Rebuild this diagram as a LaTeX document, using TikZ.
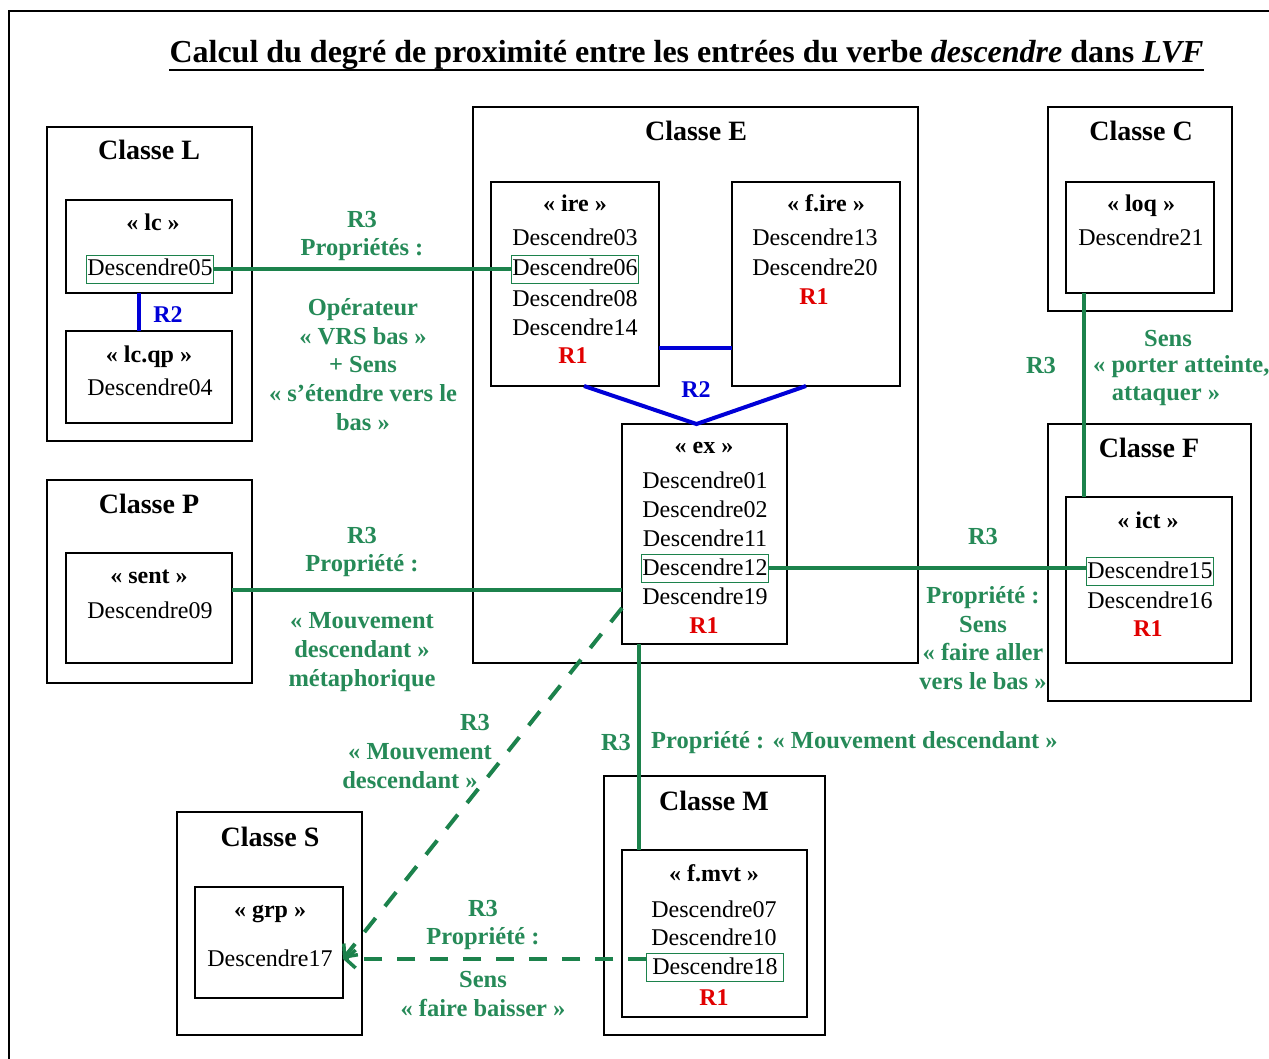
\documentclass[tikz,border=0pt]{standalone}
\usepackage{fontspec}
\setmainfont{Liberation Serif}
\usetikzlibrary{arrows.meta}
\definecolor{gline}{RGB}{28,130,76}
\definecolor{gtext}{RGB}{38,138,88}
\definecolor{bl}{RGB}{0,0,215}
\definecolor{rd}{RGB}{225,0,0}
\newcommand\mkbox[5]{\node[box, minimum width={#4-#2}, minimum height={#5-#3}] (#1) at ({(#2+#4)/2},{(#3+#5)/2}) {};}
\begin{document}
\begin{tikzpicture}[x=1pt,y=-1pt,
  box/.style={draw=black, line width=1.7pt, inner sep=0pt, outer sep=0pt},
  ent/.style={font=\fontsize{24}{26}\selectfont, anchor=base, inner xsep=1pt, inner ysep=3pt, text height=18pt, text depth=4pt, outer sep=0pt},
  hl/.style={ent, draw=gline, line width=0.9pt},
  cls/.style={font=\bfseries\fontsize{28}{30}\selectfont, anchor=base, inner sep=0pt},
  tag/.style={font=\bfseries\fontsize{24}{26}\selectfont, anchor=base, inner sep=0pt},
  rone/.style={tag, text=rd},
  rtwo/.style={tag, text=bl},
  glab/.style={font=\bfseries\fontsize{24.5}{28.75}\selectfont, text=gtext, align=center, inner sep=0pt},
  gl/.style={draw=gline, line width=4pt},
  gdash/.style={draw=gline, line width=4pt, dash pattern=on 18pt off 15pt, -{Straight Barb[length=10pt,width=18pt,line width=3.5pt]}},
  bline/.style={draw=bl, line width=4pt},
]
\useasboundingbox (0,0) rectangle (1269,1059);
\clip (0,0) rectangle (1269,1059);
\draw[line width=1.8pt] (9,11) rectangle (1300,1100);

% title
\node[font=\bfseries\fontsize{32}{34}\selectfont, anchor=base, inner sep=0pt] (title) at (686.5,63) {Calcul du degré de proximité entre les entrées du verbe \textit{descendre} dans \textit{LVF}};
\draw[line width=2.2pt] ([yshift=-7pt]title.base west) -- ([yshift=-7pt]title.base east);

% boxes
\mkbox{L}{47}{127}{252}{441}
\mkbox{lc}{66}{200}{232}{293}
\mkbox{lcqp}{66}{331}{232}{423}
\mkbox{E}{473}{107}{918}{663}
\mkbox{ire}{491}{182}{659}{386}
\mkbox{fire}{732}{182}{900}{386}
\mkbox{ex}{622}{424}{787}{644}
\mkbox{C}{1048}{107}{1232}{311}
\mkbox{loq}{1066}{182}{1214}{293}
\mkbox{F}{1048}{424}{1251}{701}
\mkbox{ict}{1066}{497}{1232}{663}
\mkbox{P}{47}{480}{252}{683}
\mkbox{sent}{66}{553}{232}{663}
\mkbox{M}{604}{776}{825}{1035}
\mkbox{fmvt}{622}{850}{807}{1017}
\mkbox{S}{177}{812}{362}{1035}
\mkbox{grp}{195}{887}{343}{998}

% class titles
\node[cls] (tL) at (149,160) {Classe L};
\node[cls] (tE) at (696,141) {Classe E};
\node[cls] (tC) at (1141,141) {Classe C};
\node[cls] (tF) at (1149,457) {Classe F};
\node[cls] (tP) at (149,513) {Classe P};
\node[cls] (tM) at (714,810) {Classe M};
\node[cls] (tS) at (270,846) {Classe S};

% Classe L
\node[tag] (glc) at (153,231) {« lc »};
\node[hl] (d05) at (150,276) {Descendre05};
\node[tag] (glcqp) at (149,362) {« lc.qp »};
\node[ent] (d04) at (150,395) {Descendre04};

% Classe E
\node[tag] (gire) at (575,212) {« ire »};
\node[ent] (d03) at (575,246) {Descendre03};
\node[hl] (d06) at (575,276) {Descendre06};
\node[ent] (d08) at (575,307) {Descendre08};
\node[ent] (d14) at (575,335) {Descendre14};
\node[rone] (r1a) at (573,363) {R1};
\node[tag] (gfire) at (826,212) {« f.ire »};
\node[ent] (d13) at (815,246) {Descendre13};
\node[ent] (d20) at (815,276) {Descendre20};
\node[rone] (r1b) at (814,305) {R1};
\node[tag] (gex) at (704,453) {« ex »};
\node[ent] (d01) at (705,488) {Descendre01};
\node[ent] (d02) at (705,517) {Descendre02};
\node[ent] (d11) at (705,546) {Descendre11};
\node[hl] (d12) at (705,575) {Descendre12};
\node[ent] (d19) at (705,604) {Descendre19};
\node[rone] (r1c) at (704,633) {R1};

% Classe C
\node[tag] (gloq) at (1141,212) {« loq »};
\node[ent] (d21) at (1141,246) {Descendre21};

% Classe F
\node[tag] (gict) at (1148,528) {« ict »};
\node[hl] (d15) at (1150,578) {Descendre15};
\node[ent] (d16) at (1150,608) {Descendre16};
\node[rone] (r1d) at (1148,636) {R1};

% Classe P
\node[tag] (gsent) at (149,583) {« sent »};
\node[ent] (d09) at (150,618) {Descendre09};

% Classe M
\node[tag] (gfmvt) at (714,881) {« f.mvt »};
\node[ent] (d07) at (714,917) {Descendre07};
\node[ent] (d10) at (714,945) {Descendre10};
\node[hl, inner xsep=6pt] (d18) at (715,974) {Descendre18};
\node[rone] (r1e) at (714,1005) {R1};

% Classe S
\node[tag] (ggrp) at (270,917) {« grp »};
\node[ent] (d17) at (270,966) {Descendre17};
\coordinate (d17tip) at (d17.east -| grp.east);

% blue R2 links
\draw[bline] ([xshift=-10pt]lc.south) -- ([xshift=-10pt]lc.south |- lcqp.north);
\node[rtwo] (r2a) at (168,323) {R2};
\draw[bline] ([yshift=-64pt]ire.east) -- ([yshift=-64pt]ire.east -| fire.west);
\draw[bline, line join=miter] ([xshift=9pt]ire.south) -- ([xshift=-8pt]ex.north) -- ([xshift=-10pt]fire.south);
\node[rtwo] (r2b) at (696,397) {R2};

% green R3 links
\draw[gl] (d05.east) -- (d06.west);
\node[glab] (lab1) at (362,236) {R3\\Propriétés :};
\node[glab] (lab2) at (363,364.5) {Opérateur\\« VRS bas »\\+ Sens\\« s’étendre vers le\\bas »};

\draw[gl] ([yshift=18pt]sent.east) -- ([yshift=18pt]sent.east -| ex.west);
\node[glab] (lab3) at (362,552) {R3\\Propriété :};
\node[glab] (lab4) at (362,652) {« Mouvement\\descendant »\\métaphorique};

\draw[gl] (d12.east) -- (d12.east -| d15.west);
\node[glab] (lab5) at (983,537) {R3};
\node[glab] (lab6) at (983,638) {Propriété :\\Sens\\« faire aller\\vers le bas »};

\draw[gl] ([xshift=18pt]loq.south west) -- ([xshift=18pt]loq.south west |- ict.north);
\node[glab] (lab7) at (1041,366) {R3};
\node[glab] (lab8) at (1168,339) {Sens};
\node[glab, anchor=west] (lab9) at (1093,367) {« porter atteinte,};
\node[glab] (lab10) at (1166,396) {attaquer »};

\draw[gl] ([xshift=17pt]ex.south west) -- ([xshift=17pt]ex.south west |- fmvt.north);
\node[glab] (lab11) at (616,743) {R3};
\node[glab, anchor=west] (lab12) at (651,743) {Propriété : « Mouvement descendant »};

\draw[gdash] ([yshift=-74pt]ex.west) -- (d17tip);
\node[glab] (lab13) at (475,723) {R3};
\node[glab] (lab14) at (420,752) {« Mouvement};
\node[glab] (lab15) at (410,780) {descendant »};

\draw[gdash] (d18.west |- d17tip) -- (d17tip);
\node[glab] (lab16) at (483,925) {R3\\Propriété :};
\node[glab] (lab17) at (483,994) {Sens\\« faire baisser »};
\end{tikzpicture}
\end{document}
